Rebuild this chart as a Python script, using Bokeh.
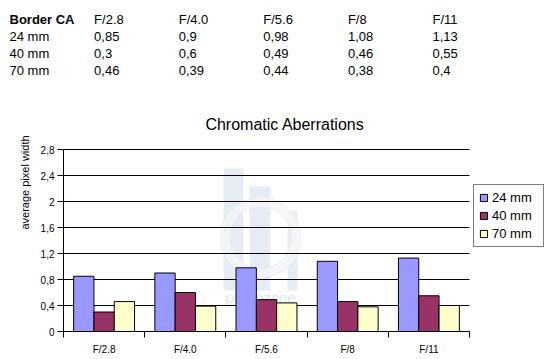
import math
from bokeh.plotting import figure
from bokeh.models import (ColumnDataSource, Range1d, FixedTicker, CustomJSTickFormatter,
                          Legend, LegendItem, LinearAxis)
from bokeh.core.properties import value
from bokeh.embed import file_html
from bokeh.resources import INLINE

# ---- data ----
stops = ["F/2.8", "F/4.0", "F/5.6", "F/8", "F/11"]
series = ["24 mm", "40 mm", "70 mm"]
ca_24 = [0.85, 0.9, 0.98, 1.08, 1.13]
ca_40 = [0.3, 0.6, 0.49, 0.46, 0.55]
ca_70 = [0.46, 0.39, 0.44, 0.38, 0.4]
y_ticks = [0, 0.4, 0.8, 1.2, 1.6, 2.0, 2.4, 2.8]
table_header = "Border CA"
chart_title = "Chromatic Aberrations"
y_label = "average pixel width"
watermark = "photozone"

colors = ["#9999FF", "#993366", "#FFFFCC"]
FONT = "Liberation Sans"
W, H = 551, 359
values = [ca_24, ca_40, ca_70]
n = len(stops)

# ---- page geometry (pixels) of the plotting area ----
PX_LEFT, PX_RIGHT, PX_TOP, PX_BOTTOM = 63, 469, 149, 331
sx = (PX_RIGHT - PX_LEFT) / n                # pixels per category
sy = (PX_BOTTOM - PX_TOP) / y_ticks[-1]      # pixels per unit

def X(px):
    return (px - PX_LEFT) / sx

def Y(py):
    return (PX_BOTTOM - py) / sy

p = figure(width=W, height=H, output_backend="svg", toolbar_location=None,
           x_range=Range1d(X(0), X(W)), y_range=Range1d(Y(H), Y(0)),
           x_axis_location=None, y_axis_location=None,
           min_border=0, min_border_left=0, min_border_right=0,
           min_border_top=0, min_border_bottom=0)
p.outline_line_color = None
p.xgrid.visible = False
p.ygrid.visible = False

# faint watermark behind everything
wm = dict(level="image")
p.quad(left=[X(223), X(249), X(287)], right=[X(243), X(270), X(297)],
       bottom=[Y(290)] * 3, top=[Y(168), Y(186), Y(210)],
       fill_color="#e6ecf3", line_color=None, **wm)
p.annulus(x=[X(260)], y=[Y(237)], inner_radius=31, outer_radius=40,
          inner_radius_units="screen", outer_radius_units="screen",
          fill_color="#f5f6f8", fill_alpha=0.85, line_color="#eceef1", line_width=1, **wm)
p.text(x=[X(260)], y=[Y(297)], text=[watermark], text_align="center", text_baseline="middle",
       text_font=value(FONT), text_font_size="15px", text_font_style="italic",
       text_color="#dfe6ee", **wm)

# horizontal gridlines at the tick values, across the category span
p.segment(x0=[0] * len(y_ticks), x1=[n] * len(y_ticks), y0=y_ticks, y1=y_ticks,
          line_color="black", line_width=1, level="underlay")

bar_w = 0.25
renderers = []
for k, (name, vals, col) in enumerate(zip(series, values, colors)):
    src = ColumnDataSource(dict(x=[i + bar_w * (k + 1) for i in range(n)], top=vals))
    r = p.vbar(x="x", top="top", bottom=0, width=bar_w, source=src,
               fill_color=col, line_color="black", line_width=1)
    renderers.append(r)

# x axis at y=0
xaxis = LinearAxis(fixed_location=0, bounds=(0, n),
                   ticker=FixedTicker(ticks=[i + 0.5 for i in range(n)],
                                      minor_ticks=list(range(n + 1))),
                   formatter=CustomJSTickFormatter(args=dict(labels=stops),
                                                   code="return labels[Math.floor(tick)];"))
xaxis.major_tick_line_color = None
xaxis.major_tick_out = 0
xaxis.major_tick_in = 0
xaxis.minor_tick_out = 6
xaxis.minor_tick_in = 0
xaxis.minor_tick_line_color = "black"
xaxis.axis_line_color = "black"
xaxis.major_label_standoff = 6
xaxis.major_label_text_font = FONT
xaxis.major_label_text_font_size = "10px"
xaxis.major_label_text_color = "black"
p.add_layout(xaxis, "below")

# y axis at x=0
yaxis = LinearAxis(fixed_location=0, bounds=(0, y_ticks[-1]),
                   ticker=FixedTicker(ticks=y_ticks),
                   formatter=CustomJSTickFormatter(code="return tick.toString().replace('.', ',');"))
yaxis.major_tick_out = 6
yaxis.major_tick_in = 0
yaxis.minor_tick_line_color = None
yaxis.major_tick_line_color = "black"
yaxis.axis_line_color = "black"
yaxis.major_label_standoff = 3
yaxis.major_label_text_font = FONT
yaxis.major_label_text_font_size = "10px"
yaxis.major_label_text_color = "black"
p.add_layout(yaxis, "left")

# y axis title
p.text(x=[X(24)], y=[Y(182)], text=[y_label], angle=math.pi / 2, text_align="center",
       text_baseline="middle", text_font=value(FONT), text_font_size="11px", text_color="black")

# chart title
p.text(x=[X(284.5)], y=[Y(124)], text=[chart_title], text_align="center", text_baseline="middle",
       text_font=value(FONT), text_font_size="16px", text_color="black")

# data table above the chart
def fmt(v):
    return f"{v:g}".replace(".", ",")

rows = [[table_header] + stops] + [[s] + [fmt(v) for v in vals] for s, vals in zip(series, values)]
tx, ty, txt, tstyle = [], [], [], []
for r_i, row in enumerate(rows):
    for c_i, cell in enumerate(row):
        tx.append(X(9 + 84.6 * c_i))
        ty.append(Y(18.5 + 17 * r_i))
        txt.append(cell)
        tstyle.append("bold" if (r_i == 0 and c_i == 0) else "normal")
tsrc = ColumnDataSource(dict(x=tx, y=ty, text=txt, style=tstyle))
p.text(x="x", y="y", text="text", source=tsrc, text_font_style="style",
       text_align="left", text_baseline="middle", text_font=value(FONT),
       text_font_size="13px", text_color="black")

# legend
legend = Legend(items=[LegendItem(label=s, renderers=[r]) for s, r in zip(series, renderers)],
                location=(473, H - 247), margin=0, padding=5, spacing=3,
                label_height=15, label_width=46, glyph_width=9, glyph_height=9,
                label_standoff=4, label_text_font=FONT, label_text_font_size="13px",
                label_text_color="black", border_line_color="black", border_line_width=1,
                background_fill_color="white", background_fill_alpha=1)
p.add_layout(legend, "center")

open("out.html", "w").write(file_html(p, INLINE))
